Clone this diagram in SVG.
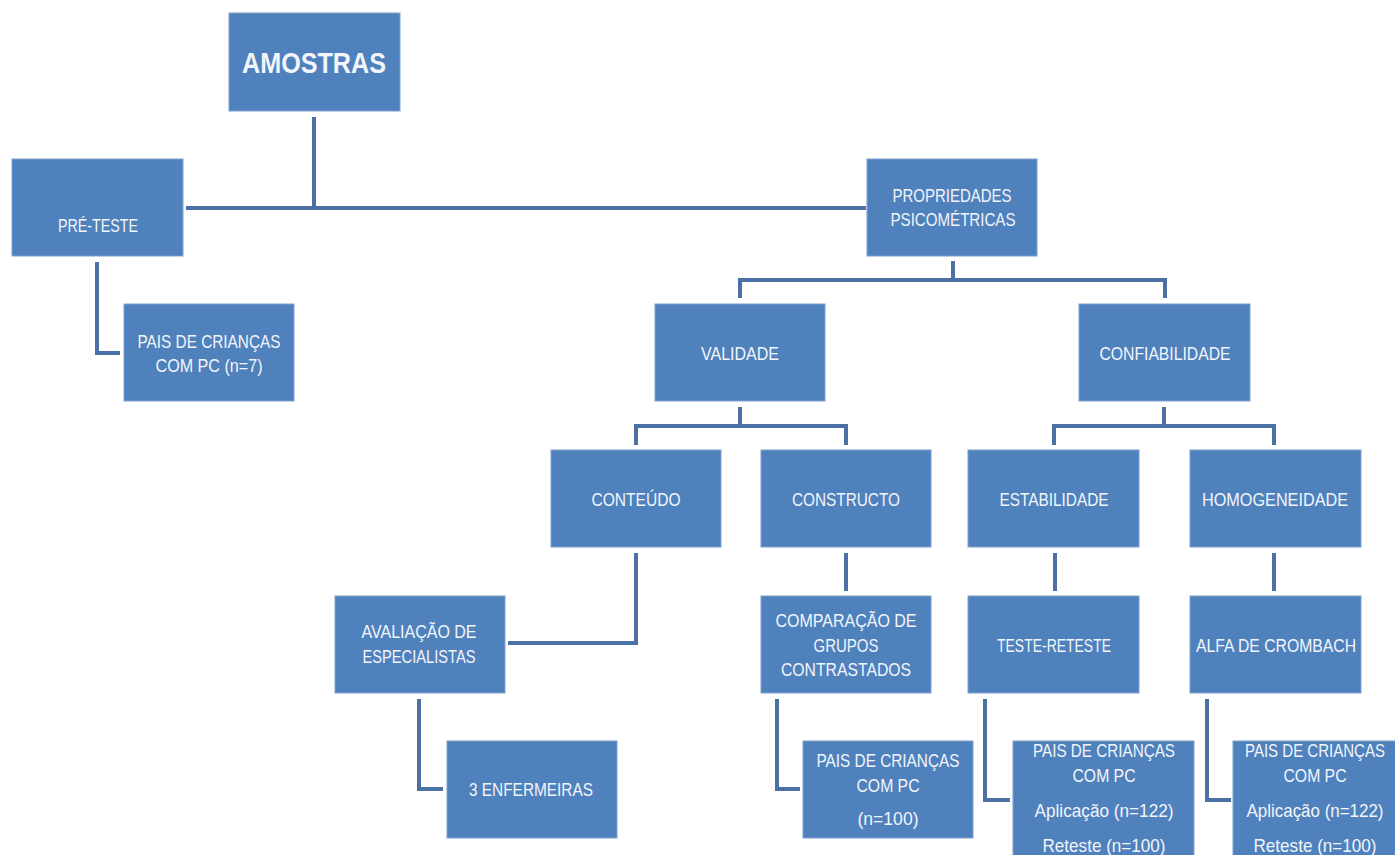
<svg xmlns="http://www.w3.org/2000/svg" width="1395" height="855" viewBox="0 0 1395 855">
<style>
.box{fill:#4F81BD;stroke:#7FA1CE;stroke-width:1}
.t{font-family:"Liberation Sans",Arial,sans-serif;font-size:19px;fill:#F2F5FA;text-anchor:middle}
.big{font-size:29px;font-weight:bold}
.c{fill:none;stroke:#4A70A6;stroke-width:4;stroke-linejoin:miter;stroke-linecap:butt}
</style>
<rect width="1395" height="855" fill="#FFFFFF"/>
<g id="connectors">
<path class="c" d="M314,117 V208"/>
<path class="c" d="M186,208 H866"/>
<path class="c" d="M97,262 V353 H120"/>
<path class="c" d="M953,261 V280"/>
<path class="c" d="M740,298 V280 H1165 V298"/>
<path class="c" d="M740,407 V426"/>
<path class="c" d="M636,445 V426 H846 V445"/>
<path class="c" d="M1164,407 V426"/>
<path class="c" d="M1054,445 V426 H1274 V445"/>
<path class="c" d="M636,553 V643 H508"/>
<path class="c" d="M846,553 V591"/>
<path class="c" d="M1055,553 V591"/>
<path class="c" d="M1274,553 V591"/>
<path class="c" d="M419,699 V789 H443"/>
<path class="c" d="M777,699 V789 H800"/>
<path class="c" d="M985,699 V800 H1010"/>
<path class="c" d="M1207,699 V800 H1231"/>
</g>
<g id="amostras"><rect class="box" x="229" y="13" width="171" height="98"/><text class="t big" x="314" y="73" textLength="144" lengthAdjust="spacingAndGlyphs">AMOSTRAS</text></g>
<g id="pre-teste"><rect class="box" x="12" y="159" width="171" height="97"/><text class="t" x="98" y="232" textLength="80" lengthAdjust="spacingAndGlyphs">PRÉ-TESTE</text></g>
<g id="propriedades"><rect class="box" x="867" y="159" width="170" height="97"/><text class="t" x="952" y="202" textLength="119" lengthAdjust="spacingAndGlyphs">PROPRIEDADES</text><text class="t" x="953" y="226" textLength="125" lengthAdjust="spacingAndGlyphs">PSICOMÉTRICAS</text></g>
<g id="pais7"><rect class="box" x="124" y="304" width="170" height="97"/><text class="t" x="209" y="348" textLength="143" lengthAdjust="spacingAndGlyphs">PAIS DE CRIANÇAS</text><text class="t" x="209" y="372" textLength="107" lengthAdjust="spacingAndGlyphs">COM PC (n=7)</text></g>
<g id="validade"><rect class="box" x="655" y="304" width="170" height="97"/><text class="t" x="740" y="360" textLength="78" lengthAdjust="spacingAndGlyphs">VALIDADE</text></g>
<g id="confiabilidade"><rect class="box" x="1079" y="304" width="171" height="97"/><text class="t" x="1165" y="360" textLength="131" lengthAdjust="spacingAndGlyphs">CONFIABILIDADE</text></g>
<g id="conteudo"><rect class="box" x="551" y="450" width="170" height="97"/><text class="t" x="636" y="506" textLength="89" lengthAdjust="spacingAndGlyphs">CONTEÚDO</text></g>
<g id="constructo"><rect class="box" x="761" y="450" width="170" height="97"/><text class="t" x="846" y="506" textLength="108" lengthAdjust="spacingAndGlyphs">CONSTRUCTO</text></g>
<g id="estabilidade"><rect class="box" x="968" y="450" width="171" height="97"/><text class="t" x="1054" y="506" textLength="109" lengthAdjust="spacingAndGlyphs">ESTABILIDADE</text></g>
<g id="homogeneidade"><rect class="box" x="1190" y="450" width="171" height="97"/><text class="t" x="1275" y="506" textLength="146" lengthAdjust="spacingAndGlyphs">HOMOGENEIDADE</text></g>
<g id="avaliacao"><rect class="box" x="335" y="596" width="170" height="97"/><text class="t" x="419" y="638" textLength="115" lengthAdjust="spacingAndGlyphs">AVALIAÇÃO DE</text><text class="t" x="419" y="663" textLength="113" lengthAdjust="spacingAndGlyphs">ESPECIALISTAS</text></g>
<g id="comparacao"><rect class="box" x="761" y="596" width="170" height="97"/><text class="t" x="846" y="627" textLength="141" lengthAdjust="spacingAndGlyphs">COMPARAÇÃO DE</text><text class="t" x="846" y="652" textLength="65" lengthAdjust="spacingAndGlyphs">GRUPOS</text><text class="t" x="846" y="676" textLength="130" lengthAdjust="spacingAndGlyphs">CONTRASTADOS</text></g>
<g id="teste-reteste"><rect class="box" x="968" y="596" width="171" height="97"/><text class="t" x="1054" y="652" textLength="114" lengthAdjust="spacingAndGlyphs">TESTE-RETESTE</text></g>
<g id="alfa"><rect class="box" x="1190" y="596" width="171" height="97"/><text class="t" x="1276" y="652" textLength="160" lengthAdjust="spacingAndGlyphs">ALFA DE CROMBACH</text></g>
<g id="enfermeiras"><rect class="box" x="447" y="741" width="170" height="97"/><text class="t" x="531" y="796" textLength="124" lengthAdjust="spacingAndGlyphs">3 ENFERMEIRAS</text></g>
<g id="pais100"><rect class="box" x="803" y="741" width="170" height="97"/><text class="t" x="888" y="767" textLength="143" lengthAdjust="spacingAndGlyphs">PAIS DE CRIANÇAS</text><text class="t" x="888" y="792" textLength="63" lengthAdjust="spacingAndGlyphs">COM PC</text><text class="t" x="888" y="825" textLength="61" lengthAdjust="spacingAndGlyphs">(n=100)</text></g>
<g id="pais122a"><rect class="box" x="1013" y="741" width="181" height="125"/><text class="t" x="1104" y="757" textLength="142" lengthAdjust="spacingAndGlyphs">PAIS DE CRIANÇAS</text><text class="t" x="1104" y="782" textLength="63" lengthAdjust="spacingAndGlyphs">COM PC</text><text class="t" x="1104" y="817" textLength="139" lengthAdjust="spacingAndGlyphs">Aplicação (n=122)</text><text class="t" x="1104" y="852" textLength="123" lengthAdjust="spacingAndGlyphs">Reteste (n=100)</text></g>
<g id="pais122b"><rect class="box" x="1233" y="741" width="181" height="125"/><text class="t" x="1315" y="757" textLength="140" lengthAdjust="spacingAndGlyphs">PAIS DE CRIANÇAS</text><text class="t" x="1315" y="782" textLength="63" lengthAdjust="spacingAndGlyphs">COM PC</text><text class="t" x="1315" y="817" textLength="137" lengthAdjust="spacingAndGlyphs">Aplicação (n=122)</text><text class="t" x="1315" y="852" textLength="123" lengthAdjust="spacingAndGlyphs">Reteste (n=100)</text></g>
</svg>
